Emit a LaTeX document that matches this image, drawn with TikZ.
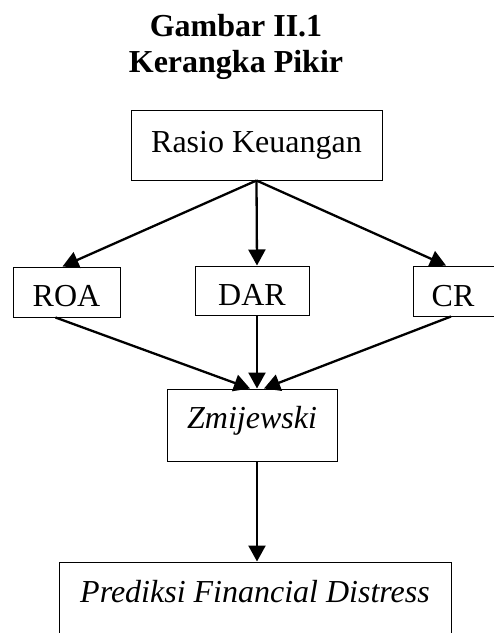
\documentclass[tikz,border=0pt]{standalone}
\usepackage{fontspec}
\setmainfont{Liberation Serif}
\usetikzlibrary{arrows.meta}

\tikzset{
  box/.style={draw, line width=1pt, inner sep=0pt, anchor=base, font=\fontsize{32}{36}\selectfont},
  conn/.style={line width=2.3pt, -{Triangle[length=16pt,width=17pt]}},
  head/.style={inner sep=0pt, anchor=base, font=\fontsize{32}{36}\selectfont\bfseries}
}

\begin{document}
\begin{tikzpicture}[x=1pt,y=1pt,yscale=-1,xscale=1]
\useasboundingbox (0,0) rectangle (494,633); %set diagram to the page size

% Title
\node [head] (judul) at (236,36) {Gambar II.1};
\node [head] (subjudul) at (236,72) {Kerangka Pikir};

% Text Node
\node [box, minimum width=251pt, text height=42pt, text depth=28pt] (rasio) at (256.5,152) {Rasio Keuangan};
% Text Node
\node [box, minimum width=107pt, text height=39pt, text depth=11pt] (roa) at (66.5,306) {ROA};
% Text Node
\node [box, minimum width=114pt, text height=39pt, text depth=10pt] (dar) at (252,305) {DAR};
% Text Node
\node [box, minimum width=94pt, text height=40pt, text depth=10pt] (cr) at (460,306) {CR\kern14pt};
% Text Node
\node [box, minimum width=170pt, text height=39pt, text depth=33pt] (zm) at (252,428) {\itshape Zmijewski};
% Text Node
\node [box, minimum width=392pt, text height=40pt, text depth=50pt] (pred) at (255,602) {\itshape Prediksi Financial Distress};

% Connection
\draw [conn] (rasio.south) -- ([xshift=-4pt]roa.north);
% Connection
\draw [conn] (rasio.south) -- ([xshift=5pt]dar.north);
% Connection
\draw [conn] (rasio.south) -- ([xshift=-14pt]cr.north);
% Connection
\draw [conn] ([xshift=-11pt]roa.south) -- ([xshift=-2pt]zm.north);
% Connection
\draw [conn] ([xshift=5pt]dar.south) -- ([xshift=5pt]zm.north);
% Connection
\draw [conn] ([xshift=-9pt]cr.south) -- ([xshift=12pt]zm.north);
% Connection
\draw [conn] ([xshift=5pt]zm.south) -- ([xshift=2pt]pred.north);

\end{tikzpicture}
\end{document}
